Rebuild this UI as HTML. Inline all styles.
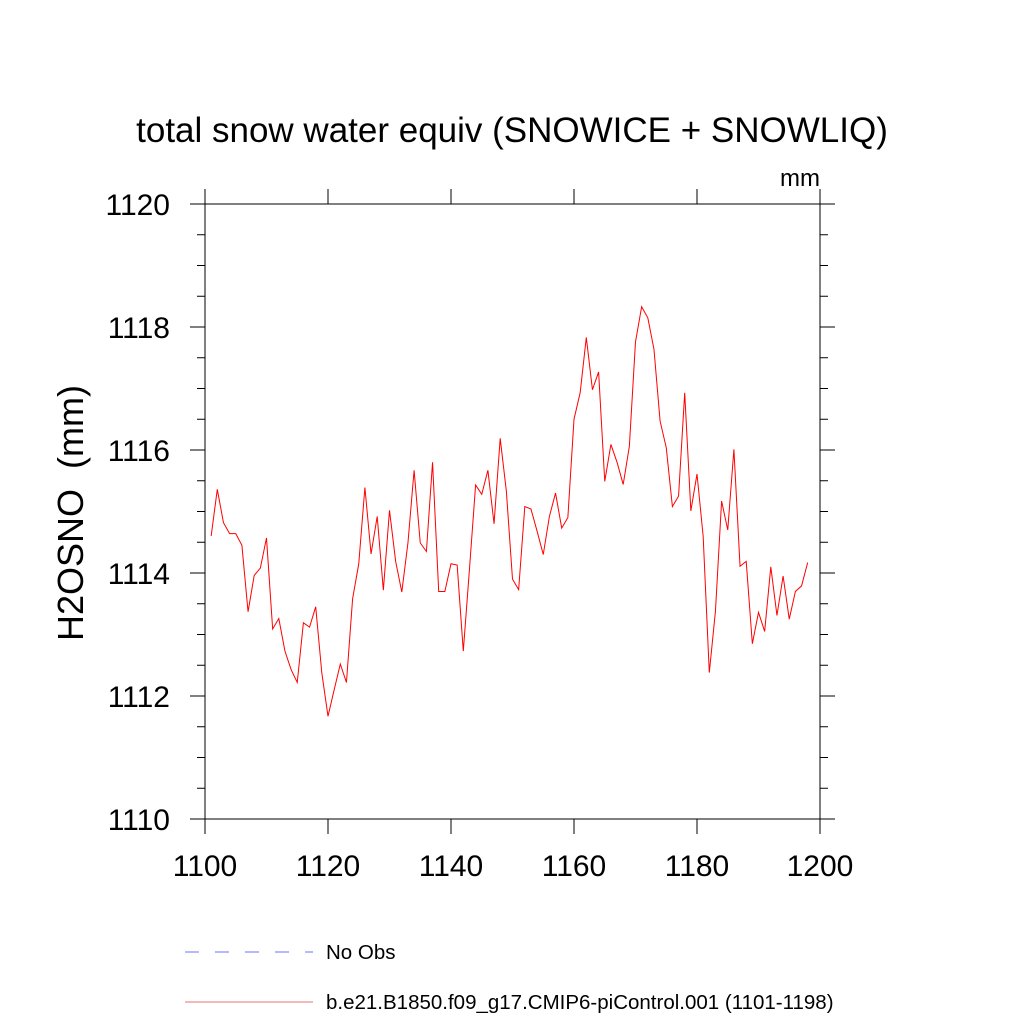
<!DOCTYPE html>
<html><head><meta charset="utf-8"><style>
html,body{margin:0;padding:0;background:#fff;}
svg{display:block;font-family:"Liberation Sans",Arial,sans-serif;}
</style></head><body>
<svg id="chart" width="1024" height="1024" viewBox="0 0 1024 1024">
<rect width="1024" height="1024" fill="#fff"/>
<text x="512" y="142" font-size="35" text-anchor="middle">total snow water equiv (SNOWICE + SNOWLIQ)</text>
<text x="820" y="186" font-size="24" text-anchor="end">mm</text>
<text transform="translate(83,513) rotate(-90)" font-size="36" text-anchor="middle" xml:space="preserve">H2OSNO  (mm)</text>
<g id="axes"></g>
<polyline id="series" fill="none" stroke="#ff0000" stroke-width="1"/>
<g>
<line x1="185" y1="952" x2="313" y2="952" stroke="#7070ff" stroke-width="1" stroke-dasharray="14,16"/>
<text x="326" y="959" font-size="20.5">No Obs</text>
<line x1="185" y1="1002" x2="313" y2="1002" stroke="#e87070" stroke-width="1"/>
<text x="326" y="1009" font-size="20.5">b.e21.B1850.f09_g17.CMIP6-piControl.001 (1101-1198)</text>
</g>
</svg>
<script>
const years = [];
for (let y = 1101; y <= 1198; y++) years.push(y);
const values = [1114.60,1115.36,1114.82,1114.64,1114.64,1114.45,1113.37,1113.96,1114.08,1114.57,
1113.09,1113.26,1112.73,1112.43,1112.22,1113.19,1113.12,1113.45,1112.37,1111.67,
1112.10,1112.52,1112.22,1113.58,1114.15,1115.39,1114.31,1114.92,1113.72,1115.02,
1114.19,1113.69,1114.49,1115.67,1114.49,1114.35,1115.80,1113.70,1113.70,1114.15,
1114.13,1112.73,1114.06,1115.43,1115.28,1115.67,1114.80,1116.19,1115.33,1113.90,
1113.73,1115.08,1115.04,1114.68,1114.30,1114.92,1115.30,1114.73,1114.90,1116.50,
1116.93,1117.83,1116.98,1117.27,1115.49,1116.09,1115.80,1115.44,1116.06,1117.76,
1118.33,1118.15,1117.64,1116.47,1116.04,1115.08,1115.25,1116.93,1115.01,1115.61,
1114.60,1112.38,1113.38,1115.17,1114.70,1116.01,1114.11,1114.19,1112.85,1113.36,
1113.05,1114.10,1113.31,1113.95,1113.25,1113.70,1113.79,1114.17];
const xTicks = [1100,1120,1140,1160,1180,1200];
const yTicks = [1110,1112,1114,1116,1118,1120];
const yMinor = [];
for (let v = 1110; v <= 1120.001; v += 0.5) yMinor.push(v);

const L=205,R=820,T=204,B=819;
const xs = v => L + (v-1100)/100*(R-L);
const ys = v => B - (v-1110)/10*(B-T);
const NS="http://www.w3.org/2000/svg";
const g=document.getElementById('axes');
function ln(x1,y1,x2,y2,name){
  const l=document.createElementNS(NS,'line');
  l.setAttribute('x1',x1);l.setAttribute('y1',y1);l.setAttribute('x2',x2);l.setAttribute('y2',y2);
  l.setAttribute('stroke','#000');l.setAttribute('stroke-width','1');
  
  
  g.appendChild(l);
}
function tx(x,y,s,anchor,name){
  const t=document.createElementNS(NS,'text');
  t.setAttribute('x',x);t.setAttribute('y',y);t.setAttribute('font-size','30');
  t.setAttribute('text-anchor',anchor);t.textContent=s;
  
  
  g.appendChild(t);
}
const f=document.createElementNS(NS,'rect');
f.setAttribute('x',L);f.setAttribute('y',T);f.setAttribute('width',R-L);f.setAttribute('height',B-T);
f.setAttribute('fill','none');f.setAttribute('stroke','#000');f.setAttribute('stroke-width','1');


g.appendChild(f);
xTicks.forEach(v=>{
  const x=xs(v);
  ln(x,B,x,B+15,'x-tick');
  ln(x,T,x,T-15,'x-tick-top');
  tx(x,876,String(v),'middle','x-tick-label');
});
yMinor.forEach(v=>{
  const y=ys(v);
  ln(L,y,L-8,y,'y-minor-tick');
  ln(R,y,R+8,y,'y-minor-tick-right');
});
yTicks.forEach(v=>{
  const y=ys(v);
  ln(L,y,L-15,y,'y-tick');
  ln(R,y,R+15,y,'y-tick-right');
  tx(L-35,y+11,String(v),'end','y-tick-label');
});
document.getElementById('series').setAttribute('points',
  years.map((yr,i)=>xs(yr).toFixed(2)+','+ys(values[i]).toFixed(2)).join(' '));
</script>
</body></html>
